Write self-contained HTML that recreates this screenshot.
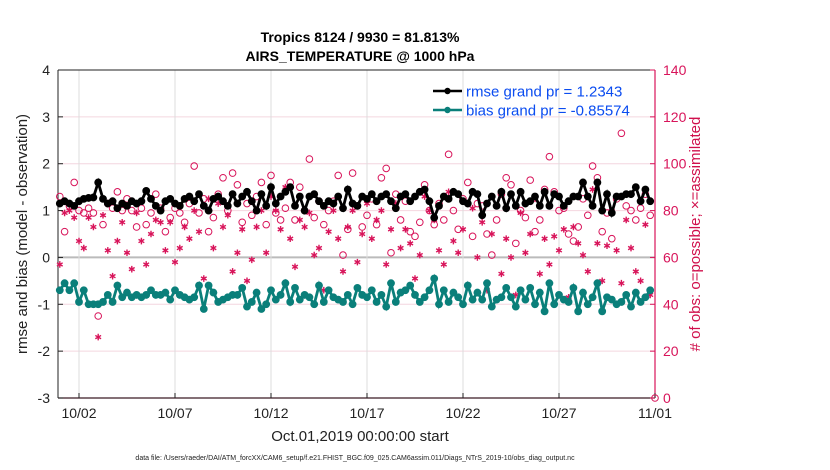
<!DOCTYPE html>
<html><head><meta charset="utf-8"><style>
body{margin:0;background:#fff;}
svg{display:block;font-family:"Liberation Sans",sans-serif;}
</style></head><body>
<svg id="c" width="830" height="470" viewBox="0 0 830 470">
<text x="360" y="42" text-anchor="middle" font-size="14" font-weight="bold">Tropics 8124 / 9930 = 81.813%</text>
<text x="360" y="61" text-anchor="middle" font-size="14" font-weight="bold">AIRS_TEMPERATURE @ 1000 hPa</text>
<text x="360" y="441" text-anchor="middle" font-size="15" fill="#222">Oct.01,2019 00:00:00 start</text>
<text x="355" y="460" text-anchor="middle" font-size="7" fill="#222">data file: /Users/raeder/DAI/ATM_forcXX/CAM6_setup/f.e21.FHIST_BGC.f09_025.CAM6assim.011/Diags_NTrS_2019-10/obs_diag_output.nc</text>
<text transform="translate(27,234) rotate(-90)" text-anchor="middle" font-size="15" fill="#222">rmse and bias (model - observation)</text>
<text transform="translate(700,234) rotate(-90)" text-anchor="middle" font-size="15" fill="#d0104c"># of obs: o=possible; ×=assimilated</text>
<g id="plot"></g>
</svg>
<script>
const xTicks=[1,6,11,16,21,26,31];
const xTickLabels=["10/02","10/07","10/12","10/17","10/22","10/27","11/01"];
const yTicks=[-3,-2,-1,0,1,2,3,4];
const y2Ticks=[0,20,40,60,80,100,120,140];
const rmse=[1.15,1.2,1.15,1.1,1.2,1.25,1.27,1.28,
1.6,1.25,1.15,1.2,1.05,1.15,1.1,1.2,
1.15,1.2,1.42,1.25,1.1,1.0,1.2,1.25,
1.15,1.1,1.25,1.3,1.2,1.35,1.1,1.0,
1.25,1.3,1.2,1.1,1.35,1.15,1.3,1.4,
1.2,1.0,1.35,1.1,1.5,1.15,1.3,1.4,
1.5,1.1,1.3,1.0,1.3,1.35,1.2,1.1,
1.2,1.15,1.3,1.05,1.45,1.15,1.1,1.3,
1.25,1.35,1.2,1.3,1.35,1.2,1.05,1.3,
1.35,1.2,1.3,1.4,1.45,1.2,0.85,1.1,
1.3,1.25,1.4,1.35,1.2,1.15,1.4,1.35,
0.9,1.15,1.3,1.1,1.4,1.05,1.35,1.1,
1.4,1.15,1.2,1.3,1.1,1.4,1.1,1.35,
1.3,1.1,1.2,1.3,1.3,1.6,1.3,1.1,
1.6,1.0,1.35,0.95,1.3,1.3,1.35,1.35,
1.5,1.2,1.45,1.2];
const bias=[-0.7,-0.55,-0.7,-0.55,-0.95,-0.7,-1.0,-1.0,
-1.0,-0.95,-0.8,-0.95,-0.6,-0.85,-0.75,-0.85,
-0.8,-0.85,-0.8,-0.7,-0.8,-0.8,-0.75,-0.9,
-0.7,-0.8,-0.85,-0.9,-0.85,-0.6,-1.1,-0.6,
-0.75,-0.95,-0.9,-0.85,-0.8,-0.8,-0.65,-1.05,
-0.95,-0.75,-1.1,-1.0,-0.7,-0.9,-0.8,-0.55,
-0.95,-0.65,-0.9,-0.8,-0.85,-1.0,-0.6,-0.95,
-0.7,-0.85,-0.9,-0.95,-0.8,-1.0,-0.65,-0.8,
-0.85,-0.7,-0.95,-0.8,-1.05,-0.55,-0.95,-0.75,
-0.7,-0.6,-0.8,-0.95,-0.85,-0.7,-0.45,-1.0,
-0.7,-0.95,-0.75,-0.85,-1.0,-0.6,-0.9,-0.75,
-0.9,-0.55,-1.05,-0.9,-0.85,-0.65,-0.85,-1.05,
-0.7,-0.9,-0.65,-1.0,-0.75,-1.15,-0.55,-1.0,
-0.8,-0.9,-0.95,-0.65,-1.15,-0.75,-1.0,-0.85,
-0.55,-1.15,-0.85,-0.9,-1.0,-0.95,-0.8,-1.05,
-0.75,-0.95,-0.85,-0.7];
const possible=[86,71,82,92,80,79,81,79,
35,74,83,81,88,80,85,80,
73,81,74,79,87,81,71,77,
81,79,75,83,99,79,85,71,
77,87,94,80,96,91,75,83,
78,86,92,74,95,79,76,81,
92,76,90,80,102,77,84,74,
80,84,95,61,72,96,82,73,
78,85,74,94,98,62,87,76,
84,71,69,75,91,80,74,83,
76,104,80,72,85,92,69,83,
82,70,61,76,87,94,91,66,
80,77,93,71,76,89,103,88,
80,81,70,67,73,85,78,99,
94,71,79,68,85,113,82,80,
76,81,87,78,0];
const assimilated=[57,79,80,77,67,64,77,73,
26,78,63,52,67,75,62,55,
79,67,57,70,76,75,63,75,
58,64,73,68,80,71,51,85,
64,83,73,78,54,62,72,50,
59,73,80,62,86,80,72,90,
68,56,76,73,79,61,64,46,
71,80,68,54,73,80,58,70,
83,68,76,80,57,72,83,64,
72,66,51,61,86,80,76,63,
57,88,67,62,72,48,81,60,
75,46,70,82,53,68,60,44,
79,62,70,85,53,68,57,69,
63,72,43,73,66,61,54,89,
66,50,65,80,63,49,76,64,
54,50,74,44];
</script>
<script>
const NS="http://www.w3.org/2000/svg";
const L=58,R=655,T=70,B=398;
const xs=t=>79+(t-1)*19.2;
const ys=v=>B-(v+3)/7*(B-T);
const y2s=v=>B-v/140*(B-T);
const g=document.getElementById('plot');
function mk(tag,attrs){const e=document.createElementNS(NS,tag);for(const k in attrs)e.setAttribute(k,attrs[k]);g.appendChild(e);return e;}
const CR="#d8145a";
yTicks.forEach(v=>{if(v>-3&&v<4){const e=mk('line',{x1:L,x2:R,y1:ys(v),y2:ys(v),stroke:v===0?'#bbb':'#f4d6df','stroke-width':v===0?2:1});

}});
xTicks.forEach(t=>{if(t<31){const e=mk('line',{x1:xs(t),x2:xs(t),y1:T,y2:B,stroke:'#ddd','stroke-width':1});

}});
let fr=mk('line',{x1:L,x2:R,y1:T,y2:T,stroke:'#222','stroke-width':1});


fr=mk('line',{x1:L,x2:R,y1:B,y2:B,stroke:'#3a1a24','stroke-width':1.2});


fr=mk('line',{x1:L,x2:L,y1:T,y2:B,stroke:'#222','stroke-width':1});


fr=mk('line',{x1:R,x2:R,y1:T,y2:B,stroke:CR,'stroke-width':1.2});


xTicks.forEach((t,i)=>{mk('line',{x1:xs(t),x2:xs(t),y1:B,y2:B-5,stroke:'#222'});
const e=mk('text',{x:xs(t),y:B+20,'text-anchor':'middle','font-size':14,fill:'#222'});e.textContent=xTickLabels[i];

});
yTicks.forEach(v=>{mk('line',{x1:L,x2:L+5,y1:ys(v),y2:ys(v),stroke:'#222'});
const e=mk('text',{x:L-8,y:ys(v)+5,'text-anchor':'end','font-size':14,fill:'#222'});e.textContent=v;

});
y2Ticks.forEach(v=>{mk('line',{x1:R,x2:R-5,y1:y2s(v),y2:y2s(v),stroke:CR});
const e=mk('text',{x:R+8,y:y2s(v)+5,'font-size':14,fill:CR});e.textContent=v;

});
const tt=i=>i*0.25;
possible.forEach((v,i)=>{const t=i<124?tt(i):31;const e=mk('circle',{cx:xs(t),cy:y2s(v),r:3.3,fill:'none',stroke:CR,'stroke-width':1});

});
assimilated.forEach((v,i)=>{const x=xs(tt(i)),y=y2s(v),s=3.3,d=s*0.87,h=s*0.5;
const e=mk('path',{d:`M${x} ${y-s}V${y+s}M${x-d} ${y-h}L${x+d} ${y+h}M${x-d} ${y+h}L${x+d} ${y-h}`,stroke:CR,'stroke-width':1.4,fill:'none'});

});
function series(arr,col,name){
const p=mk('polyline',{points:arr.map((v,i)=>xs(tt(i))+','+ys(v)).join(' '),fill:'none',stroke:col,'stroke-width':2.8});


arr.forEach((v,i)=>{const c=mk('circle',{cx:xs(tt(i)),cy:ys(v),r:3.9,fill:col});

});
}
series(bias,'#0a7f7a','bias');
series(rmse,'#000','rmse');
[['#000','rmse grand pr = 1.2343',91],['#0a7f7a','bias grand pr = -0.85574',110]].forEach((d,i)=>{
const l=mk('line',{x1:433,x2:462,y1:d[2],y2:d[2],stroke:d[0],'stroke-width':2.5});


const c=mk('circle',{cx:447.5,cy:d[2],r:3.2,fill:d[0]});


const t=mk('text',{x:466,y:d[2]+5.5,'font-size':15,fill:'#0b4cf0'});t.textContent=d[1];

});
</script>
</body></html>
